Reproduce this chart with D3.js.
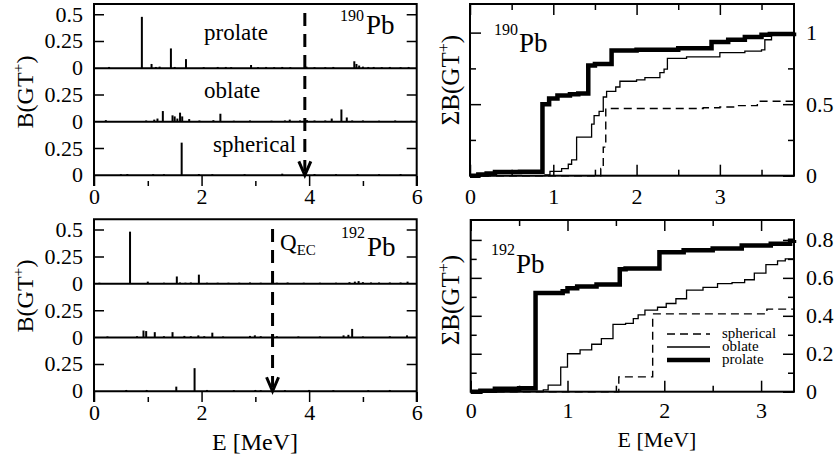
<!DOCTYPE html>
<html>
<head>
<meta charset="utf-8">
<script src="https://cdn.jsdelivr.net/npm/d3@7"></script>
<style>
  body { margin: 0; background: #fff; }
  svg { display: block; }
  svg text { font-family: "Liberation Serif", "Times New Roman", Times, serif; }
</style>
</head>
<body>
<svg width="838" height="466"></svg>
<script>
// ---- data: stick spectra, [E (MeV), B(GT+)] ----
var pb190Prolate = [[0.28,0.012],[0.89,0.48],[1.07,0.04],[1.15,0.012],[1.22,0.015],[1.43,0.185],[1.5,0.012],[1.71,0.085],[2.04,0.01],[2.3,0.012],[2.45,0.012],[2.55,0.01],[2.92,0.03],[3.05,0.01],[3.2,0.012],[3.35,0.01],[3.5,0.012],[3.65,0.01],[3.95,0.015],[4.1,0.01],[4.3,0.01],[4.45,0.012],[4.84,0.065],[4.88,0.04],[4.93,0.025],[5.0,0.015],[5.1,0.012],[5.2,0.012],[5.35,0.01],[5.5,0.012],[5.7,0.01],[5.85,0.012]];
var pb190Oblate = [[0.22,0.015],[0.97,0.012],[1.12,0.02],[1.18,0.03],[1.28,0.1],[1.46,0.06],[1.5,0.05],[1.55,0.03],[1.6,0.085],[1.64,0.05],[1.77,0.025],[1.96,0.012],[2.22,0.015],[2.35,0.075],[2.6,0.01],[2.9,0.012],[3.3,0.01],[3.55,0.012],[3.64,0.02],[3.83,0.012],[3.96,0.015],[4.1,0.012],[4.3,0.012],[4.42,0.03],[4.6,0.115],[4.7,0.04],[4.8,0.012],[5.0,0.012],[5.3,0.01],[5.6,0.012],[5.9,0.01]];
var pb190Spherical = [[0.5,0.01],[0.62,0.012],[1.1,0.01],[1.3,0.01],[1.63,0.305],[1.95,0.012],[2.2,0.01],[2.8,0.01],[3.5,0.015],[4.1,0.012],[4.5,0.01],[4.9,0.012],[5.3,0.01],[5.7,0.012]];
var pb192Prolate = [[0.1,0.01],[0.67,0.485],[1.0,0.02],[1.3,0.01],[1.54,0.068],[1.6,0.012],[1.7,0.01],[1.8,0.012],[1.95,0.085],[2.1,0.01],[2.3,0.01],[2.5,0.01],[2.7,0.01],[2.9,0.012],[3.1,0.01],[3.4,0.01],[3.6,0.012],[3.9,0.01],[4.2,0.01],[4.5,0.01],[4.75,0.015],[4.85,0.02],[4.92,0.025],[5.0,0.015],[5.15,0.012],[5.3,0.012],[5.5,0.012],[5.7,0.012],[5.83,0.02]];
var pb192Oblate = [[0.25,0.01],[0.8,0.012],[0.92,0.065],[0.97,0.06],[1.13,0.05],[1.3,0.012],[1.46,0.05],[1.68,0.015],[1.8,0.012],[1.94,0.02],[2.05,0.012],[2.2,0.045],[2.4,0.01],[2.9,0.015],[2.99,0.02],[3.1,0.012],[3.4,0.012],[3.8,0.01],[4.2,0.01],[4.64,0.02],[4.73,0.025],[4.8,0.08],[5.0,0.01],[5.5,0.012],[5.82,0.02]];
var pb192Spherical = [[0.6,0.012],[0.98,0.012],[1.53,0.043],[1.87,0.215],[2.1,0.012],[2.6,0.01],[3.0,0.012],[3.1,0.01],[3.55,0.01],[4.0,0.012],[4.45,0.01],[5.1,0.01],[5.5,0.012]];

// ---- data: cumulative sums, [E (MeV), sum B(GT+)] ----
var sum190Prolate = [[0,0],[0.1,0.008],[0.2,0.015],[0.3,0.025],[0.6,0.028],[0.87,0.5],[0.95,0.54],[1.05,0.56],[1.2,0.57],[1.3,0.575],[1.42,0.77],[1.5,0.78],[1.7,0.875],[2.0,0.88],[2.5,0.89],[2.9,0.935],[3.1,0.95],[3.3,0.97],[3.5,0.985],[3.6,0.99],[3.89,1.0]];
var sum190Oblate = [[0,0],[0.9,0.005],[0.96,0.03],[1.1,0.05],[1.18,0.08],[1.22,0.11],[1.28,0.27],[1.46,0.36],[1.49,0.42],[1.55,0.45],[1.6,0.55],[1.64,0.59],[1.75,0.62],[1.8,0.66],[2.0,0.67],[2.1,0.685],[2.28,0.72],[2.33,0.745],[2.37,0.82],[2.6,0.83],[3.0,0.86],[3.3,0.87],[3.5,0.88],[3.54,0.95],[3.62,0.985],[3.89,0.99]];
var sum190Spherical = [[0,0],[1.55,0],[1.57,0.05],[1.6,0.2],[1.63,0.47],[2.8,0.475],[3.0,0.48],[3.2,0.49],[3.45,0.52],[3.89,0.52]];
var sum192Prolate = [[0,0],[0.1,0.005],[0.25,0.015],[0.5,0.018],[0.67,0.52],[0.95,0.53],[1.0,0.545],[1.1,0.555],[1.3,0.565],[1.54,0.645],[1.6,0.65],[1.95,0.735],[2.2,0.745],[2.5,0.755],[2.8,0.77],[3.1,0.78],[3.3,0.795],[3.34,0.8]];
var sum192Oblate = [[0,0],[0.5,0.003],[0.75,0.01],[0.8,0.035],[0.93,0.13],[1.0,0.2],[1.13,0.22],[1.25,0.25],[1.35,0.28],[1.47,0.355],[1.6,0.36],[1.68,0.385],[1.73,0.405],[1.8,0.43],[1.93,0.445],[2.02,0.465],[2.12,0.49],[2.23,0.535],[2.4,0.55],[2.55,0.57],[2.7,0.575],[2.83,0.59],[2.93,0.625],[3.05,0.67],[3.17,0.69],[3.25,0.7],[3.34,0.7]];
var sum192Spherical = [[0,0],[1.53,0.078],[1.88,0.41],[3.06,0.435],[3.34,0.435]];

var shapeNames = ["prolate", "oblate", "spherical"];
var qec190 = 3.92, qec192 = 3.32;

var FONT = '"Liberation Serif", "Times New Roman", Times, serif';
var svg = d3.select("svg");

// left panels: three stacked stick spectra
function stickPanel(p) {
  var x = d3.scaleLinear().domain([0, 6]).range([p.left, p.right]);
  var u = (p.bottom - p.top) / 1.7;   // px per unit of B(GT)
  var g = svg.append("g");
  var bases = [];

  p.series.forEach(function(s, i) {
    var base = p.top + (0.6 + 0.5 * i) * u;
    bases.push(base);
    var y = d3.scaleLinear().domain([0, 0.5]).range([base, base - 0.5 * u]);
    var ticks = i == 0 ? [0, 0.25, 0.5] : [0, 0.25];

    g.selectAll(null).data(s).enter().append("line")
      .attr("x1", function(d){ return x(d[0]) })
      .attr("x2", function(d){ return x(d[0]) })
      .attr("y1", y(0))
      .attr("y2", function(d){ return y(d[1]) })
      .attr("stroke", "#000")
      .attr("stroke-width", 2)

    g.append("line")
      .attr("x1", p.left).attr("x2", p.right)
      .attr("y1", y(0)).attr("y2", y(0))
      .attr("stroke", "#000").attr("stroke-width", 2)

    // inward ticks both sides
    g.selectAll(null).data(ticks.slice(1)).enter().append("path")
      .attr("d", function(d){ return "M" + p.left + "," + y(d) + "h10M" + p.right + "," + y(d) + "h-10" })
      .attr("stroke", "#000").attr("stroke-width", 1.5)

    g.selectAll(null).data(ticks).enter().append("text")
      .attr("x", p.left - 11)
      .attr("y", function(d){ return y(d) + 7 })
      .attr("text-anchor", "end")
      .style("font-size", "22px")
      .text(function(d){ return d })

    if (p.names) {
      g.append("text")
        .attr("x", p.names[i][0]).attr("y", p.names[i][1])
        .style("font-size", "23px")
        .text(shapeNames[i])
    }
  });

  // frame (no bottom edge)
  g.append("path")
    .attr("d", "M" + p.left + "," + p.bottom + "V" + p.top + "H" + p.right + "V" + p.bottom)
    .attr("fill", "none").attr("stroke", "#000").attr("stroke-width", 2)

  // x axis ticks from the frame bottom
  var ax = g.append("g").attr("transform", "translate(0," + p.bottom + ")")
    .call(d3.axisBottom(x).tickValues([0, 2, 4, 6]).tickSize(-10).tickPadding(2).tickFormat(d3.format("d")))
  g.append("g").attr("transform", "translate(0," + p.bottom + ")")
    .call(d3.axisBottom(x).tickValues([1, 3, 5]).tickSize(-5).tickFormat(""))
  g.selectAll(".domain").remove()
  g.selectAll(".tick line").attr("stroke-width", 1.5)
  ax.selectAll("text").style("font-size", "22px")

  // Q_EC marker
  var xq = x(p.qec), yEnd = bases[2];
  g.append("line")
    .attr("x1", xq).attr("x2", xq)
    .attr("y1", p.qTop).attr("y2", yEnd - 4)
    .attr("stroke", "#000").attr("stroke-width", 3)
    .style("stroke-dasharray", "13,8")
  g.append("path")
    .attr("d", "M" + (xq - 6) + "," + (yEnd - 14) + "L" + xq + "," + yEnd + "L" + (xq + 6) + "," + (yEnd - 14))
    .attr("fill", "none").attr("stroke", "#000").attr("stroke-width", 3)

  return x;
}

// right panels: cumulative sums
function sumPanel(p) {
  var x = d3.scaleLinear().domain([0, p.xmax]).range([p.left, p.right]);
  var y = d3.scaleLinear().domain([0, p.ymax]).range([p.bottom, p.top]);
  var g = svg.append("g");
  var line = d3.line()
    .x(function(d){ return x(d[0]) })
    .y(function(d){ return y(d[1]) })
    .curve(d3.curveStepAfter);

  g.append("path").datum(p.spherical).attr("d", line)
    .attr("fill", "none").attr("stroke", "#000").attr("stroke-width", 1.4).style("stroke-dasharray", "8,5")
  g.append("path").datum(p.oblate).attr("d", line)
    .attr("fill", "none").attr("stroke", "#000").attr("stroke-width", 1.3)
  g.append("path").datum(p.prolate).attr("d", line)
    .attr("fill", "none").attr("stroke", "#000").attr("stroke-width", 4.5)

  g.append("rect")
    .attr("x", p.left).attr("y", p.top)
    .attr("width", p.right - p.left).attr("height", p.bottom - p.top)
    .attr("fill", "none").attr("stroke", "#000").attr("stroke-width", 2)

  var xMaj = d3.range(0, Math.floor(p.xmax) + 1);
  var xMin = xMaj.map(function(d){ return d + 0.5 }).filter(function(d){ return d < p.xmax });

  var axB = g.append("g").attr("transform", "translate(0," + p.bottom + ")")
    .call(d3.axisBottom(x).tickValues(xMaj).tickSize(-11).tickPadding(p.xPad).tickFormat(d3.format("d")))
  g.append("g").attr("transform", "translate(0," + p.bottom + ")")
    .call(d3.axisBottom(x).tickValues(xMin).tickSize(-6).tickFormat(""))
  g.append("g").attr("transform", "translate(0," + p.top + ")")
    .call(d3.axisTop(x).tickValues(xMaj).tickSize(-11).tickFormat(""))
  g.append("g").attr("transform", "translate(0," + p.top + ")")
    .call(d3.axisTop(x).tickValues(xMin).tickSize(-6).tickFormat(""))

  g.append("g").attr("transform", "translate(" + p.left + ",0)")
    .call(d3.axisLeft(y).tickValues(p.yMaj).tickSize(-11).tickFormat(""))
  g.append("g").attr("transform", "translate(" + p.left + ",0)")
    .call(d3.axisLeft(y).tickValues(p.yMin).tickSize(-6).tickFormat(""))
  var axR = g.append("g").attr("transform", "translate(" + p.right + ",0)")
    .call(d3.axisRight(y).tickValues(p.yMaj).tickSize(-11).tickPadding(12).tickFormat(d3.format("~g")))
  g.append("g").attr("transform", "translate(" + p.right + ",0)")
    .call(d3.axisRight(y).tickValues(p.yMin).tickSize(-6).tickFormat(""))

  g.selectAll(".domain").remove()
  g.selectAll(".tick line").attr("stroke-width", 1.5)
  axB.selectAll("text").style("font-size", "22px")
  axR.selectAll("text").style("font-size", "22px")
  return { x: x, y: y };
}

stickPanel({ left: 94, right: 416.7, top: 4, bottom: 186,
  series: [pb190Prolate, pb190Oblate, pb190Spherical],
  names: [[204, 40], [204, 98], [213, 152]],
  qec: qec190, qTop: 13 });
stickPanel({ left: 94, right: 416.7, top: 219.3, bottom: 402,
  series: [pb192Prolate, pb192Oblate, pb192Spherical],
  qec: qec192, qTop: 229 });

sumPanel({ left: 470, right: 794, top: 4, bottom: 175.7, xmax: 3.89, ymax: 1.2, xPad: 13,
  yMaj: [0, 0.5, 1], yMin: [0.25, 0.75],
  prolate: sum190Prolate, oblate: sum190Oblate, spherical: sum190Spherical });
sumPanel({ left: 470.7, right: 794, top: 220, bottom: 391.7, xmax: 3.34, ymax: 0.905, xPad: 11,
  yMaj: [0, 0.2, 0.4, 0.6, 0.8], yMin: [0.1, 0.3, 0.5, 0.7],
  prolate: sum192Prolate, oblate: sum192Oblate, spherical: sum192Spherical });

// nucleus labels
function nucleus(sx, sy, px, py, mass) {
  svg.append("text").attr("x", sx).attr("y", sy).style("font-size", "16px").text(mass)
  svg.append("text").attr("x", px).attr("y", py).style("font-size", "27px").text("Pb")
}
nucleus(340, 21, 366, 33.5, "190");
nucleus(341, 238, 367, 256, "192");
nucleus(494, 35, 519, 51.5, "190");
nucleus(491, 255, 516, 273, "192");

// Q_EC label
var q = svg.append("text").attr("x", 280).attr("y", 250).style("font-size", "23px")
q.append("tspan").text("Q")
q.append("tspan").attr("dy", 5).style("font-size", "15px").text("EC")

// axis titles
function yTitle(cx, cy, size, prefix) {
  var t = svg.append("text")
    .attr("transform", "translate(" + cx + "," + cy + ") rotate(-90)")
    .attr("text-anchor", "middle")
    .style("font-size", size + "px")
  t.append("tspan").text(prefix + "B(GT")
  t.append("tspan").attr("dy", -size * 0.4).style("font-size", (size * 0.65) + "px").text("+")
  t.append("tspan").attr("dy", size * 0.4).text(")")
}
yTitle(33, 92, 24, "");
yTitle(33, 296, 24, "");
yTitle(459, 80, 25, "\u03A3");
yTitle(459, 300, 25, "\u03A3");

svg.append("text").attr("x", 255).attr("y", 450).attr("text-anchor", "middle").style("font-size", "24px").text("E [MeV]")
svg.append("text").attr("x", 657).attr("y", 447).attr("text-anchor", "middle").style("font-size", "22px").text("E [MeV]")

// legend
var legend = [
  { name: "spherical", y: 334, w: 1.4, dash: "8,5" },
  { name: "oblate", y: 347, w: 1.3, dash: null },
  { name: "prolate", y: 360, w: 4.5, dash: null }
];
var lg = svg.append("g")
lg.selectAll(null).data(legend).enter().append("line")
  .attr("x1", 667).attr("x2", 710)
  .attr("y1", function(d){ return d.y }).attr("y2", function(d){ return d.y })
  .attr("stroke", "#000")
  .attr("stroke-width", function(d){ return d.w })
  .style("stroke-dasharray", function(d){ return d.dash })
lg.selectAll(null).data(legend).enter().append("text")
  .attr("x", 722).attr("y", function(d){ return d.y + 4 })
  .style("font-size", "15px")
  .text(function(d){ return d.name })

// one serif face for every label, including the axis ticks
svg.selectAll("text").style("font-family", FONT)
</script>
</body>
</html>
